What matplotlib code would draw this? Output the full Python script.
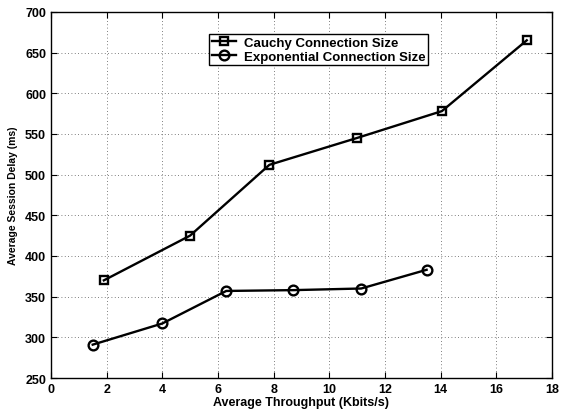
import matplotlib
matplotlib.use("Agg")
import matplotlib.pyplot as plt

plt.rcParams['font.family'] = ['Liberation Sans', 'DejaVu Sans']
plt.rcParams['font.weight'] = 'bold'

cauchy_x = [1.9, 5.0, 7.85, 11.0, 14.05, 17.1]
cauchy_y = [370, 425, 512, 545, 578, 665]
expo_x = [1.5, 4.0, 6.3, 8.7, 11.15, 13.5]
expo_y = [291, 317, 357, 358, 360, 383]

fig = plt.figure(figsize=(5.82, 4.14), dpi=100)
ax = fig.add_axes([0.0876, 0.0845, 0.8605, 0.8845])

ax.plot(cauchy_x, cauchy_y, 'k-s', lw=1.7, markersize=6, markerfacecolor='none',
        markeredgewidth=1.7, label='Cauchy Connection Size')
ax.plot(expo_x, expo_y, 'k-o', lw=1.7, markersize=7, markerfacecolor='none',
        markeredgewidth=1.7, label='Exponential Connection Size')

ax.set_xlim(0, 18)
ax.set_ylim(250, 700)
ax.set_xticks(range(0, 19, 2))
ax.set_yticks(range(250, 701, 50))
ax.grid(True, color='#555555', linestyle=(0, (1, 3)), linewidth=0.6)
ax.tick_params(direction='in', labelsize=9, length=4, top=True, right=True)
for lab in ax.get_xticklabels() + ax.get_yticklabels():
    lab.set_fontweight('bold')
for s in ax.spines.values():
    s.set_linewidth(1.0)

ax.set_xlabel('Average Throughput (Kbits/s)', fontsize=9, fontweight='bold', labelpad=1)
ax.set_ylabel('Average Session Delay (ms)', fontsize=7.5, fontweight='bold', labelpad=5)

leg = ax.legend(loc='upper left', bbox_to_anchor=(0.303, 0.957), fontsize=9.5,
                frameon=True, fancybox=False, edgecolor='black', framealpha=1,
                borderpad=0.2, labelspacing=0.1, handlelength=1.8, handletextpad=0.6)
leg.get_frame().set_linewidth(1.0)
for t in leg.get_texts():
    t.set_fontweight('bold')

fig.savefig('out.png', dpi=100)
